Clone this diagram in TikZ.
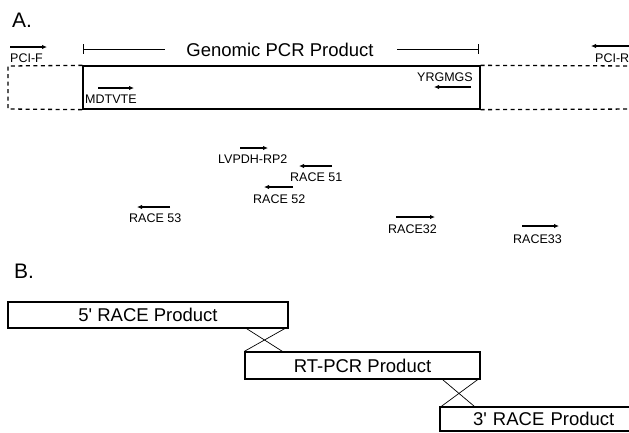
\documentclass[tikz,border=0pt]{standalone}
\usepackage{fontspec}
\setmainfont{Liberation Sans}
\usetikzlibrary{arrows.meta,calc}
\tikzset{
  small/.style={font=\fontsize{12.5}{14}\selectfont, inner sep=0pt},
  big/.style={font=\fontsize{18.5}{20}\selectfont, inner sep=0pt},
  panel/.style={font=\fontsize{21}{23}\selectfont, inner sep=0pt, anchor=base west},
  primer/.style={line width=1.1pt, -{Latex[length=5pt,width=4.5pt]}},
  prodbox/.style={draw, line width=1.3pt, rectangle, inner sep=0pt, font=\fontsize{18.5}{20}\selectfont},
  cross/.style={line width=0.7pt},
  dimline/.style={line width=0.9pt},
  dashedline/.style={line width=1.3pt, dash pattern=on 4pt off 3.5pt},
}
\begin{document}
\begin{tikzpicture}[x=1pt,y=-1pt]
\useasboundingbox (0,0) rectangle (629,432);
\clip (0,0) rectangle (629,432);
% panel letters
\node[panel] (pA) at (12,27) {A.};
\node[panel] (pB) at (14,278) {B.};
% genomic region
\node[draw, line width=1.3pt, minimum width=397pt, minimum height=43pt, inner sep=0pt] (gbox) at (281.5,87.5) {};
\draw[dashedline] (gbox.north west) -- (8,66) -- (8,109) -- (gbox.south west);
\draw[dashedline] (gbox.north east) -- (640,66);
\draw[dashedline] (gbox.south east) -- (640,109);
% dimension line
\node[big, anchor=base] (gtext) at (280,56) {Genomic PCR Product};
\coordinate (dl) at (83,49);
\coordinate (dl2) at (165,49);
\coordinate (dr) at (478,49);
\coordinate (dr2) at (397,49);
\draw[dimline] (dl) -- (dl2);
\draw[dimline] (dr2) -- (dr);
\draw[dimline] ($(dl)+(0,-5)$) -- ($(dl)+(0,5)$);
\draw[dimline] ($(dr)+(0,-5)$) -- ($(dr)+(0,5)$);
% primers
\node[small, anchor=base west] (lpcif) at (10,62) {PCI-F};
\coordinate (apcif1) at (10,47); \coordinate (apcif2) at (47,47);
\draw[primer] (apcif1) -- (apcif2);
\node[small, anchor=base west] (lpcir) at (595,62) {PCI-R};
\coordinate (apcir1) at (635,46); \coordinate (apcir2) at (591,46);
\draw[primer] (apcir1) -- (apcir2);
\node[small, anchor=base west] (lmd) at (85,103) {MDTVTE};
\coordinate (amd1) at (98,88); \coordinate (amd2) at (134,88);
\draw[primer] (amd1) -- (amd2);
\node[small, anchor=base east] (lyr) at (473,81) {YRGMGS};
\coordinate (ayr1) at (471,87); \coordinate (ayr2) at (434,87);
\draw[primer] (ayr1) -- (ayr2);
\node[small, anchor=base west] (llv) at (218,163) {LVPDH-RP2};
\coordinate (alv1) at (240,148); \coordinate (alv2) at (268,148);
\draw[primer] (alv1) -- (alv2);
\node[small, anchor=base west] (l51) at (290,181) {RACE 51};
\coordinate (a511) at (332,166); \coordinate (a512) at (299,166);
\draw[primer] (a511) -- (a512);
\node[small, anchor=base west] (l52) at (253,203) {RACE 52};
\coordinate (a521) at (293,187); \coordinate (a522) at (264,187);
\draw[primer] (a521) -- (a522);
\node[small, anchor=base west] (l53) at (129,222) {RACE 53};
\coordinate (a531) at (170,207); \coordinate (a532) at (137,207);
\draw[primer] (a531) -- (a532);
\node[small, anchor=base west] (l32) at (388,233) {RACE32};
\coordinate (a321) at (396,217); \coordinate (a322) at (435,217);
\draw[primer] (a321) -- (a322);
\node[small, anchor=base west] (l33) at (513,243) {RACE33};
\coordinate (a331) at (522,226); \coordinate (a332) at (559,226);
\draw[primer] (a331) -- (a332);
% panel B
\node[prodbox, minimum width=280pt, minimum height=26pt] (r5) at (148,315) {5\textquotesingle{} RACE Product};
\node[prodbox, minimum width=235pt, minimum height=27pt] (rt) at (362.5,365.5) {RT-PCR Product};
\node[prodbox, minimum width=200pt, minimum height=24pt, text width=200pt, align=left] (r3) at (540,419) {\hspace*{33pt}3\textquotesingle{} RACE Product};
\draw[cross] ($(r5.south east)+(-42,0)$) -- ($(rt.north west)+(38,0)$);
\draw[cross] ($(r5.south east)+(-4,0)$) -- ($(rt.north west)+(0,0)$);
\draw[cross] ($(rt.south east)+(-38,0)$) -- ($(r3.north west)+(35,0)$);
\draw[cross] ($(rt.south east)+(-3,0)$) -- ($(r3.north west)+(2,0)$);
\end{tikzpicture}
\end{document}
